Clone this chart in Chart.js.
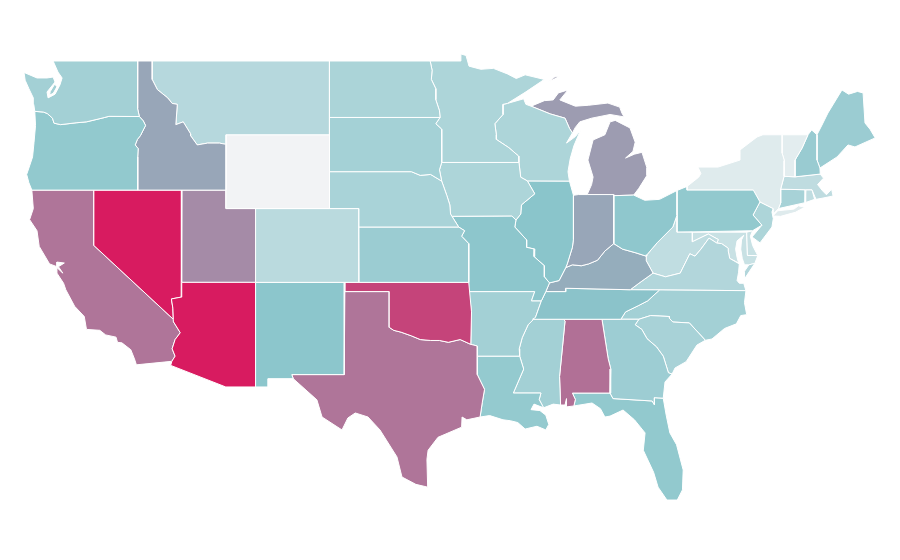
<!DOCTYPE html>
<html>
<head>
<meta charset="utf-8">
<title>US states</title>
<script src="https://cdn.jsdelivr.net/npm/chart.js@4/dist/chart.umd.js"></script>
<style>
  html, body { margin: 0; padding: 0; background: #fff; }
  canvas { display: block; }
</style>
</head>
<body>
<canvas id="myChart" width="900" height="560"></canvas>
<script>
// state outlines as lon,lat pairs
const WA = [-124.73,48.38,-123.85,48.08,-123.17,48.08,-122.76,48.13,-122.63,47.86,-123.17,47.32,-123.1,47,-122.63,47.2,-122.3,47.7,-122.15,48.08,-122.43,48.4,-122.76,49,-117.03,49,-117.04,46.42,-116.92,45.99,-118.98,46,-119.3,45.93,-120.5,45.7,-121.2,45.65,-122.25,45.55,-122.7,45.63,-122.8,45.9,-123.15,46.15,-123.4,46.23,-124,46.27,-124.07,46.65,-124.1,47,-124.4,47.5,-124.65,47.95];
const WA_KITSAP = [-122.65,47.75,-122.95,47.35,-123,47.15,-122.75,47.25,-122.5,47.6];
const OR = [-124,46.27,-123.4,46.23,-123.15,46.15,-122.8,45.9,-122.7,45.63,-122.25,45.55,-121.2,45.65,-120.5,45.7,-119.3,45.93,-118.98,46,-116.92,45.99,-116.65,45.75,-116.5,45.5,-116.85,44.95,-117.05,44.75,-117.2,44.45,-117,44.25,-117.03,43.8,-117.03,42,-124.2,42,-124.4,42.4,-124.55,42.85,-124.4,43.2,-124.15,43.8,-124.05,44.6,-123.95,45.5];
const ID = [-117.03,49,-116.05,49,-116.05,48,-115.7,47.45,-115,47,-114.7,46.7,-114.35,46.65,-114.45,45.55,-113.95,45.7,-113.45,45.05,-113.45,44.95,-113,44.45,-112.3,44.55,-111.5,44.55,-111.05,44.48,-111.05,42,-117.03,42,-117.03,43.8,-117,44.25,-117.2,44.45,-117.05,44.75,-116.85,44.95,-116.5,45.5,-116.65,45.75,-116.92,45.99,-117.04,46.42];
const MT = [-116.05,49,-104.05,49,-104.05,45,-111.05,45,-111.05,44.48,-111.5,44.55,-112.3,44.55,-113,44.45,-113.45,44.95,-113.45,45.05,-113.95,45.7,-114.45,45.55,-114.35,46.65,-114.7,46.7,-115,47,-115.7,47.45,-116.05,48];
const WY = [-111.05,45,-104.05,45,-104.05,41,-111.05,41];
const ND = [-104.05,49,-97.23,49,-97.1,48.5,-97.15,48,-96.85,47.5,-96.85,46.9,-96.6,46.3,-96.56,45.94,-104.05,45.94];
const SD = [-104.05,45.94,-96.56,45.94,-96.85,45.6,-96.45,45.3,-96.45,43.5,-96.6,43.1,-96.45,42.49,-97.2,42.85,-97.9,42.8,-98.5,43,-104.05,43];
const NE = [-104.05,43,-98.5,43,-97.9,42.8,-97.2,42.85,-96.45,42.49,-96.1,41.7,-95.9,41.2,-95.85,40.7,-95.3,40,-102.05,40,-102.05,41,-104.05,41];
const KS = [-102.05,40,-95.3,40,-94.9,39.8,-95.1,39.5,-94.62,39.1,-94.62,37,-102.04,37];
const CO = [-109.05,41,-102.05,41,-102.05,37,-109.05,37];
const NM = [-109.05,37,-103,37,-103.05,36.5,-103.05,32,-106.6,32,-106.5,31.78,-108.2,31.78,-108.2,31.33,-109.05,31.33];
const OK = [-103,37,-94.62,37,-94.43,35.4,-94.48,33.64,-95.2,33.9,-96,33.75,-96.6,33.85,-97.2,33.85,-97.9,33.9,-98.5,34.1,-99.2,34.3,-99.7,34.4,-100,34.56,-100,36.5,-103.05,36.5];
const TX = [-103.05,36.5,-100,36.5,-100,34.56,-99.7,34.4,-99.2,34.3,-98.5,34.1,-97.9,33.9,-97.2,33.85,-96.6,33.85,-96,33.75,-95.2,33.9,-94.48,33.64,-94.04,33.55,-94.04,32,-93.55,31.2,-93.7,30.5,-93.85,29.7,-94.75,29.55,-95.07,29.7,-95.1,29.15,-96.7,28.6,-97.37,27.9,-97.45,27.4,-97.4,25.9,-98.2,26.05,-99.14,26.45,-99.48,27.54,-100.63,29,-101.44,29.7,-102.3,29.92,-102.8,29.65,-103.2,29,-104.55,29.7,-104.9,30.63,-106.5,31.78,-106.6,32,-103.05,32];
const AZ = [-114.05,37,-109.05,37,-109.05,31.33,-111.07,31.33,-114.8,32.5,-114.72,32.72,-114.5,33,-114.7,33.4,-114.5,33.9,-114.15,34.27,-114.6,34.85,-114.62,35,-114.65,35.6,-114.75,36.1,-114.1,36.2,-114.05,36.2];
const NV = [-120,42,-114.04,42,-114.05,36.2,-114.1,36.2,-114.75,36.1,-114.65,35.6,-114.62,35,-120,39];
const UT = [-114.04,42,-111.05,42,-111.05,41,-109.05,41,-109.05,37,-114.05,37];
const CA = [-124.2,42,-120,42,-120,39,-114.62,35,-114.6,34.85,-114.15,34.27,-114.5,33.9,-114.7,33.4,-114.5,33,-114.72,32.72,-117.12,32.53,-117.25,32.85,-117.5,33.35,-118.1,33.72,-118.4,33.75,-118.5,34.03,-119.2,34.15,-119.6,34.4,-120.5,34.45,-120.65,35.15,-121.3,35.7,-121.9,36.6,-122.05,36.95,-122.5,37.5,-122.5,37.8,-122.1,37.5,-122.4,37.85,-122,38.05,-122.5,38.1,-122.5,37.85,-123,38,-123.7,38.95,-123.85,39.8,-124.35,40.4,-124.1,41];
const MN = [-97.23,49,-95.15,49,-95.15,49.38,-94.8,49.3,-94.6,48.72,-93.8,48.55,-92.95,48.6,-92,48.3,-91.4,48.05,-90.8,48.25,-89.5,48,-90.8,47.3,-92,46.7,-92.3,46.65,-92.3,46.1,-92.85,45.6,-92.75,45,-92.75,44.75,-91.9,44.3,-91.25,43.85,-91.22,43.5,-96.45,43.5,-96.45,45.3,-96.85,45.6,-96.56,45.94,-96.6,46.3,-96.85,46.9,-96.85,47.5,-97.15,48,-97.1,48.5];
const IA = [-96.45,43.5,-91.22,43.5,-91.1,42.7,-90.65,42.5,-90.15,41.8,-91.05,41.2,-91.1,40.7,-91.42,40.38,-91.7,40.6,-95.75,40.58,-95.85,40.7,-95.9,41.2,-96.1,41.7,-96.45,42.49,-96.6,43.1];
const MO = [-95.75,40.58,-91.7,40.6,-91.42,40.38,-91.5,40,-90.7,39.3,-90.7,38.9,-90.15,38.8,-90.2,38.4,-89.5,37.9,-89.5,37.3,-89.15,36.97,-89.4,36.5,-89.7,36,-90.37,36,-90.15,36.5,-94.62,36.5,-94.62,39.1,-95.1,39.5,-94.9,39.8,-95.3,40];
const WI = [-92.3,46.65,-92,46.7,-90.9,46.95,-90.75,46.65,-90.4,46.55,-89.1,46.13,-88.1,45.9,-87.8,45.35,-87.6,45.1,-88,44.55,-87.4,44.9,-87.05,45.25,-87.5,44.4,-87.75,43.7,-87.9,43,-87.8,42.49,-90.65,42.5,-91.1,42.7,-91.22,43.5,-91.25,43.85,-91.9,44.3,-92.75,44.75,-92.75,45,-92.85,45.6,-92.3,46.1];
const IL = [-90.65,42.5,-87.8,42.49,-87.53,41.72,-87.53,39.35,-87.6,38.9,-87.95,38,-88.05,37.8,-88.5,37.1,-89.15,36.97,-89.5,37.3,-89.5,37.9,-90.2,38.4,-90.15,38.8,-90.7,38.9,-90.7,39.3,-91.5,40,-91.42,40.38,-91.1,40.7,-91.05,41.2,-90.15,41.8];
const IN = [-87.53,41.72,-87.2,41.76,-86.6,41.76,-84.8,41.76,-84.8,39.1,-85.4,38.7,-85.9,38.2,-86.5,38,-87,37.9,-87.6,37.95,-88.05,37.8,-87.95,38,-87.6,38.9,-87.53,39.35];
const OH = [-84.8,41.7,-83.45,41.73,-82.7,41.45,-81.7,41.5,-80.52,41.98,-80.52,40.64,-80.8,40,-81.87,39.14,-82.55,38.5,-82.6,38.42,-83.3,38.6,-84.2,38.8,-84.8,39.1];
const MI_LOWER = [-86.6,41.76,-86.3,42.3,-86.2,42.71,-86.55,43.63,-86.2,44.72,-85.4,45,-85.05,45.7,-84.7,45.78,-83.7,45.37,-83.35,44.6,-83.5,44.1,-84,43.74,-83.4,43.95,-82.89,44.05,-82.55,43.2,-82.55,42.8,-83.1,42.1,-83.45,41.73,-84.8,41.7];
const MI_UPPER = [-90.4,46.55,-89.5,46.85,-88.9,46.89,-88.55,47.27,-87.9,47.43,-88.45,46.89,-87.4,46.55,-86.5,46.6,-85.2,46.72,-84.4,46.5,-84.25,46.18,-84.1,45.97,-85.05,46.1,-86.3,45.9,-87.1,45.7,-87.4,45.4,-87.6,45.1,-87.8,45.35,-88.1,45.9,-89.1,46.13];
const MI_ISLE = [-89.2,47.87,-88.45,48.17,-88.8,48.13];
const KY = [-89.4,36.5,-88.05,36.5,-88.07,36.68,-83.68,36.6,-83.1,36.95,-82.14,37.5,-82.6,38.17,-82.6,38.42,-83.3,38.6,-84.2,38.8,-84.8,39.1,-85.4,38.7,-85.9,38.2,-86.5,38,-87,37.9,-87.6,37.95,-88.05,37.8,-88.5,37.1,-89.15,36.97];
const TN = [-90.3,35,-84.32,35,-84,35.4,-83.1,35.75,-82.5,36,-81.7,36.59,-83.68,36.6,-88.07,36.68,-88.05,36.5,-89.4,36.5,-89.7,36,-90.1,35.1];
const AR = [-94.62,36.5,-90.15,36.5,-90.37,36,-89.7,36,-90.1,35.1,-90.6,34.7,-91,34,-91.2,33.4,-91.17,33,-94.04,33,-94.04,33.55,-94.48,33.64,-94.43,35.4];
const LA = [-94.04,33,-91.17,33,-90.9,32.3,-91.6,31,-89.73,31,-89.85,30.65,-89.55,30.2,-90.2,30.4,-90.4,30.1,-89.8,30.05,-89.4,29.8,-89.2,29.3,-89.4,29,-90,29.2,-90.8,29.05,-91.3,29.4,-91.8,29.5,-92.3,29.55,-93.2,29.78,-93.85,29.7,-93.7,30.5,-93.55,31.2,-94.04,32];
const MS = [-90.3,35,-88.2,35,-88.1,34.9,-88.47,31.9,-88.4,30.35,-88.9,30.4,-89.55,30.2,-89.85,30.65,-89.73,31,-91.6,31,-90.9,32.3,-91.17,33,-91.2,33.4,-91,34,-90.6,34.7,-90.1,35.1];
const AL = [-88.2,35,-85.6,35,-85.18,32.87,-85,32.3,-85.05,31,-87.6,31,-87.4,30.65,-87.5,30.3,-88,30.25,-88,30.7,-88.1,30.35,-88.4,30.35,-88.47,31.9,-88.1,34.9];
const GA = [-85.6,35,-83.1,35,-83.35,34.7,-82.9,34.45,-82.55,33.95,-81.9,33.5,-81.45,33,-81.1,32.1,-80.85,32.03,-81.33,31.6,-81.45,30.72,-82.05,30.75,-82.05,30.37,-82.2,30.57,-84.85,30.7,-85.05,31,-85,32.3,-85.18,32.87];
const FL = [-87.6,31,-85.05,31,-84.85,30.7,-82.2,30.57,-82.05,30.37,-82.05,30.75,-81.45,30.72,-81.25,29.8,-81,28.84,-80.55,28.2,-80.1,26.83,-80.15,25.75,-80.5,25.2,-81.2,25.2,-81.8,25.9,-82.1,26.7,-82.8,27.9,-82.68,28.84,-83.4,29.55,-84.17,30.08,-85.05,29.75,-85.4,29.7,-85.7,30.15,-86.27,30.46,-87.5,30.3,-87.4,30.65];
const SC = [-83.1,35,-82.3,35.2,-81.05,35.15,-81.03,35.05,-80.8,34.85,-79.68,34.8,-78.6,33.86,-79.17,33.6,-79.9,32.7,-80.65,32.36,-80.85,32.03,-81.1,32.1,-81.45,33,-81.9,33.5,-82.55,33.95,-82.9,34.45,-83.35,34.7];
const NC = [-84.32,35,-83.1,35,-82.3,35.2,-81.05,35.15,-81.03,35.05,-80.8,34.85,-79.68,34.8,-78.6,33.86,-78.15,33.93,-77.3,34.5,-76.5,34.75,-76.2,35.2,-75.8,35.25,-75.95,35.9,-75.85,36.55,-81.7,36.59,-82.5,36,-83.1,35.75,-84,35.4];
const VA = [-83.68,36.6,-81.7,36.59,-75.85,36.55,-76,36.95,-76.3,36.95,-76.45,37.1,-76.35,37.55,-76.3,38,-76.95,38.3,-77.05,38.7,-77.05,38.85,-77.5,39.1,-77.83,39.13,-78.35,39.4,-78.9,38.8,-79.3,38.42,-79.65,38.55,-80.3,37.5,-81.3,37.3,-82.14,37.5,-83.1,36.95];
const VA_SHORE = [-75.98,37.15,-75.95,37.6,-75.65,37.95,-75.25,38.03];
const WV = [-82.6,38.42,-82.55,38.5,-81.87,39.14,-80.8,40,-80.52,40.64,-80.52,39.72,-79.48,39.72,-79.48,39.2,-78.4,39.62,-77.72,39.32,-77.83,39.13,-78.35,39.4,-78.9,38.8,-79.3,38.42,-79.65,38.55,-80.3,37.5,-81.3,37.3,-82.14,37.5,-82.6,38.17];
const PA = [-80.52,41.98,-79.84,42.2,-79.84,42,-75.35,42,-74.9,41.36,-75.37,40.65,-74.77,40.1,-75.4,39.8,-80.52,39.72];
const NY = [-79.84,42.2,-79.05,42.7,-78.9,42.9,-79.1,43.25,-77.74,43.25,-76.25,43.63,-76.25,44.18,-75.1,44.88,-74.7,45,-73.4,45,-73.4,44,-73.25,43.6,-73.27,42.75,-73.5,42.05,-73.5,41.3,-73.65,41,-74,40.7,-74,41,-74.9,41.36,-75.35,42,-79.84,42];
const NY_LONG = [-74.03,40.6,-73.7,40.88,-72.6,40.97,-72.3,41.15,-71.87,41.07,-72.5,40.8,-73.5,40.58];
const VT = [-73.4,45,-71.65,45,-72.05,44.28,-72.53,43.63,-72.53,42.72,-73.27,42.75,-73.25,43.6,-73.4,44];
const NH = [-71.65,45,-71.4,45.26,-71.04,45,-71.04,43.63,-70.84,43.2,-70.82,42.87,-72.53,42.72,-72.53,43.63,-72.05,44.28];
const ME = [-71.04,45,-70.7,45.53,-70.3,46.18,-69.35,47.43,-68.9,47.2,-68.3,47.35,-67.92,47.27,-67.79,45.64,-67.45,45.3,-67.1,44.83,-68.47,44.34,-68.94,44.45,-69.68,43.8,-70.84,43.2,-71.04,43.63];
const MA = [-73.5,42.05,-73.27,42.75,-72.53,42.72,-70.82,42.87,-70.6,42.65,-71,42.3,-70.65,41.95,-70.4,41.75,-70.05,42.05,-69.95,41.68,-70.63,41.57,-71.1,41.5,-71.2,41.67,-71.38,42.02,-71.8,42.02];
const CT = [-73.5,42.05,-71.8,42.02,-71.85,41.32,-73.65,41,-73.5,41.3];
const RI = [-71.8,42.02,-71.38,42.02,-71.2,41.5,-71.85,41.32];
const NJ = [-74.9,41.36,-74,41,-74.09,40.82,-74,40.45,-74.09,40,-74.9,39.14,-75.44,39.46,-74.77,40.1,-75.37,40.65];
const DE = [-75.8,39.72,-75.4,39.8,-75.55,39.5,-75.4,39,-75.05,38.45,-75.75,38.46];
const MD = [-79.48,39.72,-75.8,39.72,-75.75,38.46,-75.05,38.45,-75.25,38.03,-75.65,37.95,-75.95,37.95,-76.1,38.3,-76.2,38.8,-76.15,39.3,-76,39.55,-76.45,39.25,-76.55,38.8,-76.45,38.35,-76.35,38.05,-76.95,38.3,-77.05,38.7,-77.05,38.85,-77.5,39.1,-77.83,39.13,-77.72,39.32,-78.4,39.62,-79.48,39.2];

const states = ['Washington','Oregon','Idaho','Montana','Wyoming','North Dakota','South Dakota','Nebraska','Kansas','Colorado','New Mexico','Oklahoma','Texas','Arizona','Nevada','Utah','California','Minnesota','Iowa','Missouri','Wisconsin','Illinois','Indiana','Ohio','Michigan','Kentucky','Tennessee','Arkansas','Louisiana','Mississippi','Alabama','Georgia','Florida','South Carolina','North Carolina','Virginia','West Virginia','Pennsylvania','New York','Vermont','New Hampshire','Maine','Massachusetts','Connecticut','Rhode Island','New Jersey','Delaware','Maryland'];
const stateValues = [38,46,59,29,0,34,37.5,35,42,27,49,88,73.5,100,100,67,73.5,33,33,48.5,33,50,59,47.5,62,57,50.5,38,45,38,75,41,46,35.5,38,31,24,46,9,7,43,42,24.5,36,24,33,20,20];
const stateShapes = [[WA,WA_KITSAP],[OR],[ID],[MT],[WY],[ND],[SD],[NE],[KS],[CO],[NM],[OK],[TX],[AZ],[NV],[UT],[CA],[MN],[IA],[MO],[WI],[IL],[IN],[OH],[MI_LOWER,MI_UPPER,MI_ISLE],[KY],[TN],[AR],[LA],[MS],[AL],[GA],[FL],[SC],[NC],[VA,VA_SHORE],[WV],[PA],[NY,NY_LONG],[VT],[NH],[ME],[MA],[CT],[RI],[NJ],[DE],[MD]];

// value 0 -> pale grey, 50 -> teal, 100 -> crimson
const colorStops = [[0,[242,243,245]],[50,[138,197,203]],[100,[216,27,96]]];

const colorFor = (value) => {
    const low = value <= 50 ? colorStops[0] : colorStops[1];
    const high = value <= 50 ? colorStops[1] : colorStops[2];
    const t = (value - low[0]) / (high[0] - low[0]);
    const rgb = low[1].map((c, i) => Math.round(c + (high[1][i] - c) * t));
    return `rgb(${rgb.join(',')})`;
};

// flat lon,lat list to closed list of points
const toPoints = (flat) => {
    const points = [];
    for (let i = 0; i < flat.length; i += 2) {
        points.push({x: flat[i], y: flat[i + 1]});
    }
    points.push({x: flat[0], y: flat[1]});
    return points;
};

const datasets = [];
states.forEach((name, i) => {
    stateShapes[i].forEach((shape) => {
        datasets.push({
            label: name,
            data: toPoints(shape),
            showLine: true,
            fill: 'shape',
            backgroundColor: colorFor(stateValues[i]),
            borderColor: '#ffffff',
            borderWidth: 1,
            pointRadius: 0,
            pointHoverRadius: 0,
            tension: 0
        });
    });
});

const ctx = document.getElementById('myChart').getContext('2d');
new Chart(ctx, {
    type: 'scatter',
    data: {datasets: datasets},
    options: {
        responsive: false,
        animation: false,
        layout: {padding: 0},
        plugins: {legend: {display: false}, title: {display: false}},
        scales: {
            x: {type: 'linear', display: false, min: -126.355, max: -65.42},
            y: {type: 'linear', display: false, min: 21.95, max: 52.306}
        }
    }
});
</script>
</body>
</html>
